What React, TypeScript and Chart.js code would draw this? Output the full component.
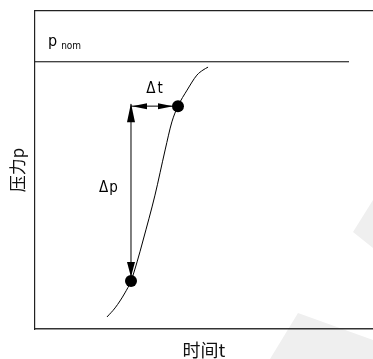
import React, { useEffect, useRef } from "react";
import { Chart, registerables } from "chart.js";

Chart.register(...registerables);

// Pressure build-up curve: time (x) vs pressure relative to nominal (y)
const timeS = [2.13, 2.37, 2.66, 2.84, 3.02, 3.2, 3.55, 3.85, 4.05, 4.23, 4.5, 4.79, 4.97, 5.12];
const pressure = [0.045, 0.079, 0.135, 0.18, 0.251, 0.333, 0.501, 0.67, 0.775, 0.834, 0.894, 0.95, 0.969, 0.98];

// Measurement points marking Δt / Δp
const markTimes = [2.84, 4.23];
const markPressures = [0.18, 0.834];

// Nominal pressure level
const pNom = 1.0;
const pNomLineEnd = 9.29;

const xTitle = "时间t";
const yTitle = "压力p";
const dtLabel = "Δt";
const dpLabel = "Δp";
const pNomMain = "p";
const pNomSub = "nom";

const labelFont = '"Liberation Sans Narrow", "DejaVu Sans Condensed", sans-serif';
const titleFont = '"Noto Sans CJK SC", "Noto Sans", sans-serif';

function arrowHead(ctx: CanvasRenderingContext2D, tipX: number, tipY: number, dirX: number, dirY: number, len: number, half: number) {
  const bx = tipX - dirX * len;
  const by = tipY - dirY * len;
  const px = -dirY;
  const py = dirX;
  ctx.beginPath();
  ctx.moveTo(tipX, tipY);
  ctx.lineTo(bx + px * half, by + py * half);
  ctx.lineTo(bx - px * half, by - py * half);
  ctx.closePath();
  ctx.fill();
}

const backdropPlugin = {
  id: "backdrop",
  beforeDraw(chart: any) {
    const { ctx, width: w, height: h } = chart;
    ctx.save();
    ctx.fillStyle = "#efefef";
    ctx.beginPath();
    ctx.moveTo(w - 20, 232);
    ctx.lineTo(w, 200);
    ctx.lineTo(w, 248);
    ctx.closePath();
    ctx.fill();
    ctx.beginPath();
    ctx.moveTo(w - 75, h - 46);
    ctx.lineTo(w, h - 19);
    ctx.lineTo(w, h);
    ctx.lineTo(w - 103, h);
    ctx.closePath();
    ctx.fill();
    ctx.restore();
  },
};

const annotationPlugin = {
  id: "deltaAnnotations",
  afterDatasetsDraw(chart: any) {
    const { ctx, scales } = chart;
    const xs = scales.x;
    const ys = scales.y;
    const x0 = xs.getPixelForValue(markTimes[0]);
    const y0 = ys.getPixelForValue(markPressures[0]);
    const x1 = xs.getPixelForValue(markTimes[1]);
    const y1 = ys.getPixelForValue(markPressures[1]);

    ctx.save();
    ctx.strokeStyle = "#000";
    ctx.fillStyle = "#000";
    ctx.lineWidth = 1;

    // Δp: vertical double arrow
    ctx.beginPath();
    ctx.moveTo(x0, y1 - 2);
    ctx.lineTo(x0, y0 - 6);
    ctx.stroke();
    arrowHead(ctx, x0, y1 - 3, 0, -1, 19, 4);
    arrowHead(ctx, x0, y0 - 4, 0, 1, 15, 4);

    // Δt: horizontal double arrow
    ctx.beginPath();
    ctx.moveTo(x0, y1);
    ctx.lineTo(x1 - 6, y1);
    ctx.stroke();
    arrowHead(ctx, x0 + 1, y1, -1, 0, 15, 3);
    arrowHead(ctx, x1 - 5, y1, 1, 0, 15, 3);

    // Labels
    ctx.textAlign = "center";
    ctx.textBaseline = "middle";
    ctx.font = `15px ${labelFont}`;
    (ctx as any).letterSpacing = "2px";
    ctx.fillText(dtLabel, (x0 + x1) / 2 + 1, y1 - 17);
    (ctx as any).letterSpacing = "1px";
    ctx.fillText(dpLabel, x0 - 22, (y0 + y1) / 2 - 5);
    (ctx as any).letterSpacing = "0px";

    // p_nom label
    const yn = ys.getPixelForValue(pNom);
    const xl = xs.left + 13;
    ctx.textAlign = "left";
    ctx.textBaseline = "alphabetic";
    ctx.font = `16px ${labelFont}`;
    ctx.fillText(pNomMain, xl, yn - 16);
    const pw = ctx.measureText(pNomMain).width;
    ctx.font = `10px ${labelFont}`;
    ctx.fillText(pNomSub, xl + pw + 4, yn - 13);
    ctx.restore();
  },
};

export default function App() {
  const canvasRef = useRef<HTMLCanvasElement | null>(null);

  useEffect(() => {
    if (!canvasRef.current) return;
    const curve = timeS.map((t, i) => ({ x: t, y: pressure[i] }));
    const marks = markTimes.map((t, i) => ({ x: t, y: markPressures[i] }));
    const nominal = [
      { x: 0, y: pNom },
      { x: pNomLineEnd, y: pNom },
    ];

    const chart = new Chart(canvasRef.current, {
      type: "scatter",
      data: {
        datasets: [
          {
            data: curve,
            showLine: true,
            borderColor: "#000",
            borderWidth: 1,
            pointRadius: 0,
            cubicInterpolationMode: "monotone",
          },
          {
            data: nominal,
            showLine: true,
            borderColor: "#000",
            borderWidth: 1,
            pointRadius: 0,
          },
          {
            data: marks,
            showLine: false,
            pointRadius: 6,
            backgroundColor: "#000",
            borderColor: "#000",
            borderWidth: 0,
          },
        ],
      },
      options: {
        animation: false,
        responsive: false,
        devicePixelRatio: 1,
        layout: { autoPadding: false, padding: { top: 11, right: 0, bottom: 0, left: 0 } },
        plugins: {
          legend: { display: false },
          tooltip: { enabled: false },
        },
        scales: {
          x: {
            type: "linear",
            position: "bottom",
            min: 0,
            max: 10,
            grid: { display: false, drawTicks: false },
            ticks: { display: false },
            border: { display: true, color: "#333", width: 1.5 },
            title: {
              display: true,
              text: xTitle,
              color: "#111",
              font: { family: titleFont, size: 18, lineHeight: 1 },
              padding: { top: 12, bottom: 0 },
            },
          },
          xTop: {
            type: "linear",
            position: "top",
            min: 0,
            max: 10,
            grid: { display: false, drawTicks: false },
            ticks: { display: false },
            border: { display: true, color: "#222", width: 1.2 },
          },
          y: {
            type: "linear",
            position: "left",
            min: 0,
            max: 1.19,
            grid: { display: false, drawTicks: false },
            ticks: { display: false },
            border: { display: true, color: "#222", width: 1.2 },
            title: {
              display: true,
              text: yTitle,
              color: "#111",
              font: { family: titleFont, size: 17, lineHeight: 1 },
              padding: { top: 9.5, bottom: 8.5 },
            },
          },
        },
      } as any,
      plugins: [backdropPlugin, annotationPlugin],
    });
    return () => chart.destroy();
  }, []);

  return (
    <div style={{ position: "fixed", left: 0, top: 0, width: 373, height: 359, background: "#fff" }}>
      <canvas ref={canvasRef} width={373} height={359} />
    </div>
  );
}
